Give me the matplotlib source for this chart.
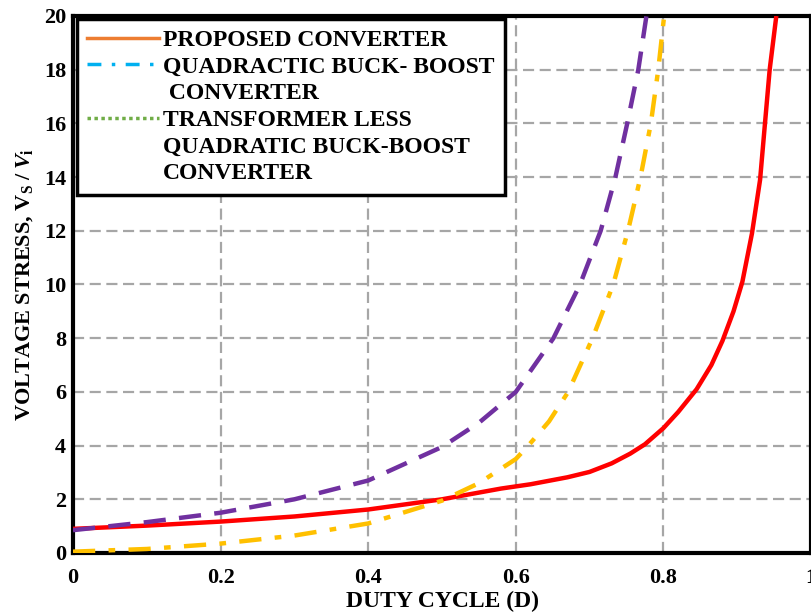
import matplotlib
matplotlib.use('Agg')
import matplotlib.pyplot as plt
from matplotlib.lines import Line2D

DPI = 100

# values
duty_proposed = [0, 0.1, 0.2, 0.3, 0.4, 0.5, 0.58, 0.62, 0.67, 0.7, 0.73,
                 0.755, 0.775, 0.8, 0.82, 0.845, 0.865, 0.88, 0.895, 0.907,
                 0.92, 0.931, 0.937, 0.944, 0.953]
stress_proposed = [0.9, 1.02, 1.17, 1.36, 1.62, 2.0, 2.4, 2.56, 2.82, 3.02,
                   3.34, 3.7, 4.05, 4.65, 5.25, 6.1, 7.0, 7.9, 9.0, 10.1, 11.9,
                   13.9, 15.8, 18.0, 20.0]

duty_qbb = [0, 0.1, 0.2, 0.3, 0.4, 0.5, 0.55, 0.6, 0.651, 0.687, 0.715,
            0.735, 0.751, 0.766, 0.777]
stress_qbb = [0.85, 1.15, 1.5, 2.0, 2.7, 3.95, 4.85, 6.0, 8.0, 10.0, 12.0,
              14.0, 16.0, 18.0, 20.0]

duty_tlqbb = [0, 0.1, 0.2, 0.3, 0.4, 0.5, 0.55, 0.6, 0.617, 0.645, 0.671,
              0.704, 0.732, 0.752, 0.769, 0.783, 0.793, 0.801]
stress_tlqbb = [0.05, 0.15, 0.35, 0.65, 1.1, 1.95, 2.6, 3.5, 4.0, 4.9, 6.0,
                8.0, 10.0, 12.0, 14.0, 16.0, 18.0, 20.0]

x_ticks = [0, 0.2, 0.4, 0.6, 0.8, 1]
x_tick_labels = ['0', '0.2', '0.4', '0.6', '0.8', '1']
y_ticks = [0, 2, 4, 6, 8, 10, 12, 14, 16, 18, 20]

legend_labels = [
    'PROPOSED CONVERTER',
    'QUADRACTIC BUCK- BOOST',
    ' CONVERTER',
    'TRANSFORMER LESS',
    'QUADRATIC BUCK-BOOST',
    'CONVERTER',
]

SERIF = 'Liberation Serif'
plt.rcParams['font.family'] = SERIF
plt.rcParams['font.weight'] = 'bold'
plt.rcParams['mathtext.fontset'] = 'custom'
plt.rcParams['mathtext.rm'] = 'Liberation Serif:bold'
plt.rcParams['mathtext.it'] = 'Liberation Serif:italic:bold'

fig = plt.figure(figsize=(8.11, 6.14), dpi=DPI)
ax = fig.add_axes([73 / 811, 1 - 553 / 614, 1 - 73 / 811, (553 - 16) / 614])

ax.plot(duty_proposed, stress_proposed, color='#FF0000', lw=3.2,
        solid_capstyle='butt', solid_joinstyle='round', zorder=3)
ax.plot(duty_qbb, stress_qbb, color='#7030A0', lw=3.2, dashes=(5, 3),
        zorder=3)
ax.plot(duty_tlqbb, stress_tlqbb, color='#FFC000', lw=3.2,
        dashes=(5, 3, 1.5, 3), zorder=3)

ax.set_xlim(0, 1)
ax.set_ylim(0, 20)
ax.set_xticks(x_ticks)
ax.set_xticklabels(x_tick_labels)
ax.set_yticks(y_ticks)
ax.tick_params(length=0, labelsize=16, pad=5)
ax.tick_params(axis='x', pad=11)
for lab in ax.get_xticklabels() + ax.get_yticklabels():
    lab.set_fontweight('bold')

ax.grid(True, color='#A6A6A6', lw=1.6, dashes=(5, 2.5))
ax.set_axisbelow(True)
for side in ['left', 'bottom', 'top', 'right']:
    ax.spines[side].set_linewidth(3)
    ax.spines[side].set_color('black')

ax.set_xlabel('DUTY CYCLE (D)', fontsize=17, fontweight='bold', labelpad=2)
ax.set_ylabel(r'VOLTAGE STRESS, $\mathrm{V}_{\mathrm{S}}\;/\;V_{\mathrm{i}}$',
              fontsize=16, fontweight='bold', labelpad=6)

handles = [
    Line2D([], [], color='#ED7D31', lw=2.5),
    Line2D([], [], color='#00B0F0', lw=2.5, dashes=(4, 3, 1, 3)),
    Line2D([], [], linestyle='none'),
    Line2D([], [], color='#70AD47', lw=2.5, dashes=(1, 1)),
    Line2D([], [], linestyle='none'),
    Line2D([], [], linestyle='none'),
]
leg = ax.legend(handles, legend_labels, loc='upper left',
                bbox_to_anchor=(0.005, 0.995), borderaxespad=0,
                prop={'family': SERIF, 'weight': 'bold', 'size': 17},
                frameon=True, fancybox=False, handlelength=3.05,
                handletextpad=0.17, labelspacing=0.22, borderpad=0.45)
leg.get_frame().set_edgecolor('black')
leg.get_frame().set_linewidth(2.5)
leg.get_frame().set_alpha(1)

plt.savefig('out.png', dpi=DPI)
